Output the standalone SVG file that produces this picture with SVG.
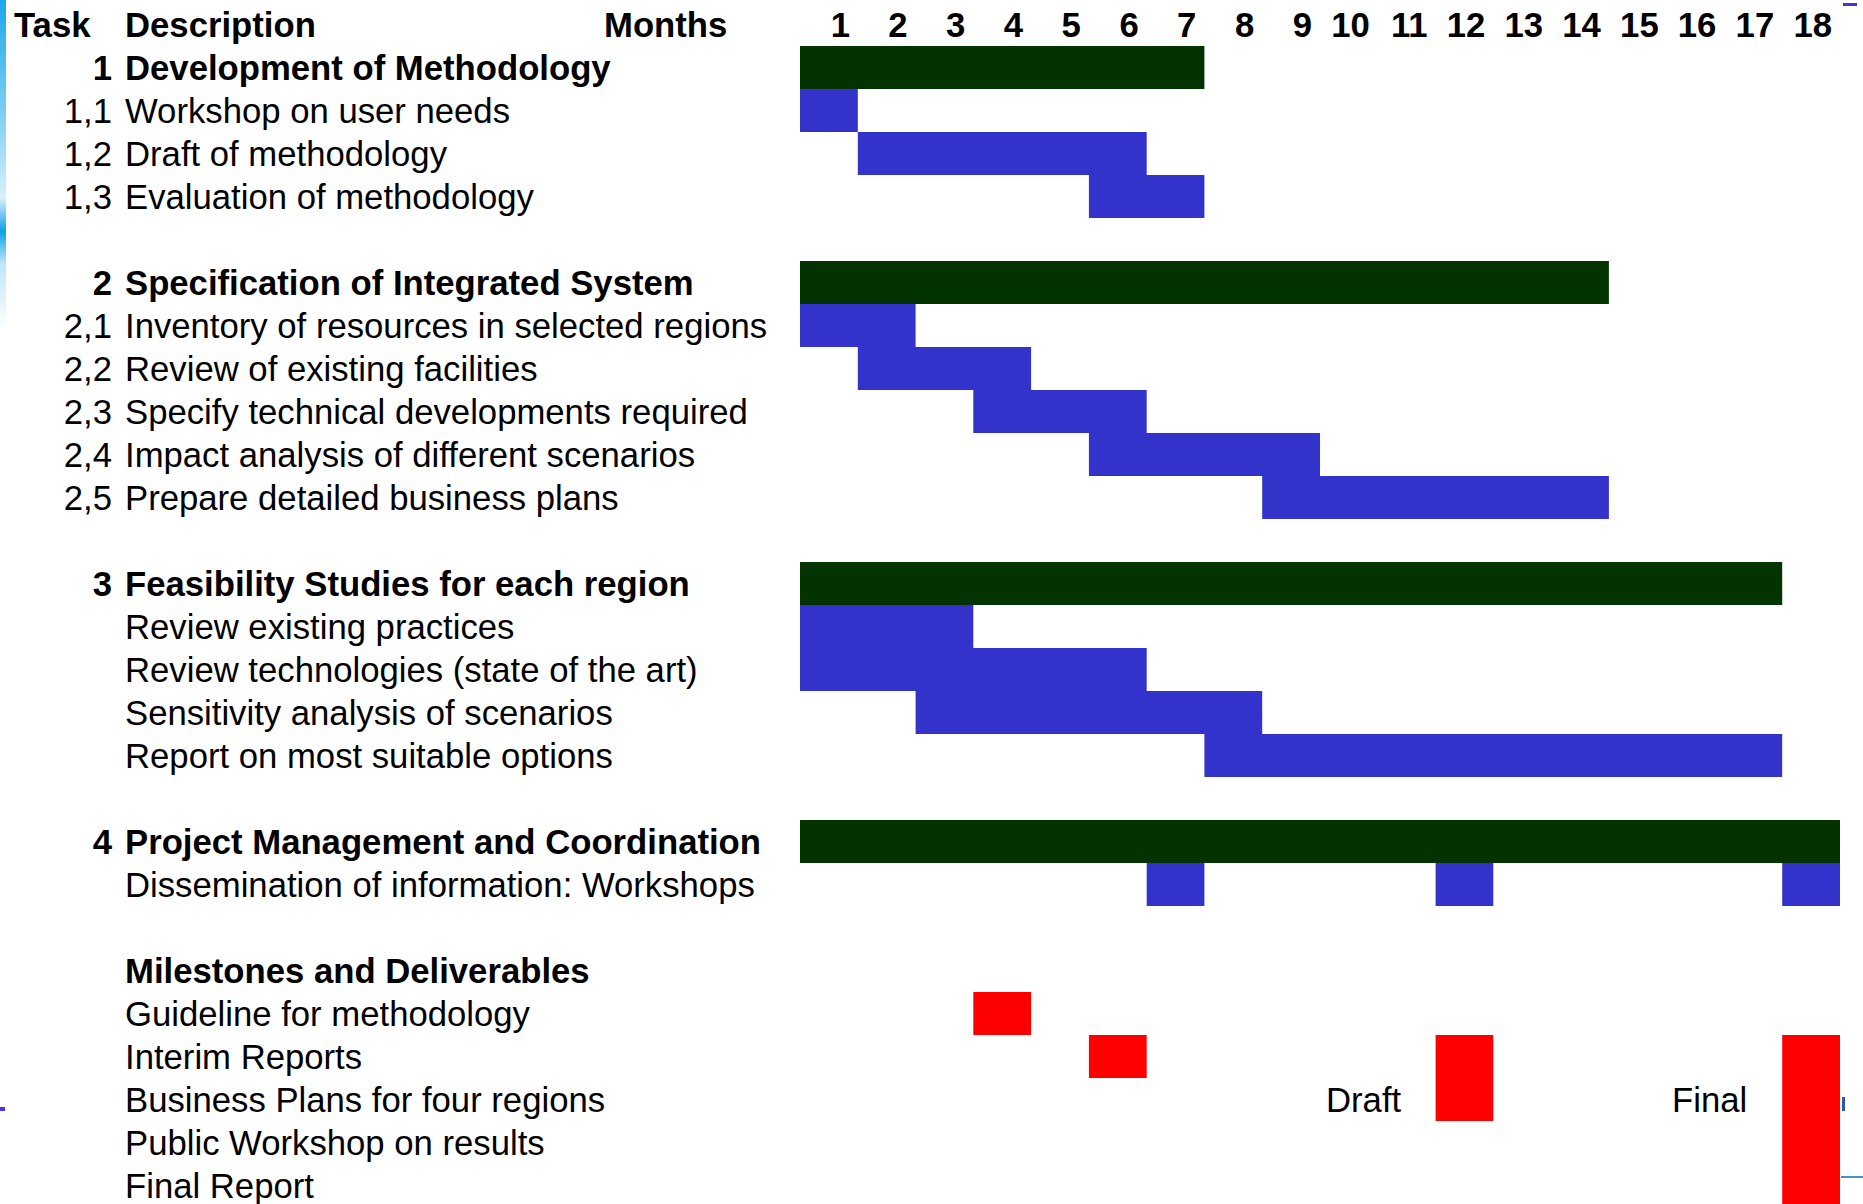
<svg xmlns="http://www.w3.org/2000/svg" width="1863" height="1204" viewBox="0 0 1863 1204">
<defs>
<style>
text{font-family:"Liberation Sans",Arial,sans-serif;font-size:34.7px;fill:#000}
.b{font-weight:bold}
.num{text-anchor:end}
.grp{fill:#033300}
.task{fill:#3333CC}
.ms{fill:#FF0000}
</style>
<linearGradient id="edge" x1="0" y1="0" x2="0" y2="1">
<stop offset="0" stop-color="#1ea6ea"/>
<stop offset="0.35" stop-color="#7fd0f4"/>
<stop offset="0.6" stop-color="#d8f0fb"/>
<stop offset="0.7" stop-color="#0fa0e6"/>
<stop offset="0.8" stop-color="#bfe6f8"/>
<stop offset="1" stop-color="#ffffff"/>
</linearGradient>
</defs>
<rect x="0" y="0" width="1863" height="1204" fill="#fff"/>
<!-- edge decorations -->
<path d="M0 0 H6 V330 H0 Z" fill="url(#edge)"/>
<rect x="1843" y="3" width="14" height="3" fill="#4b33d6"/>
<rect x="0" y="1107" width="5" height="4" fill="#4b33d6"/>
<rect x="1842" y="1097" width="3" height="14" fill="#2a5aa8"/>
<rect x="1841" y="1176" width="22" height="2" fill="#4a90d0"/>

<g id="header">
<text class="b" x="14" y="37">Task</text>
<text class="b" x="125" y="37">Description</text>
<text class="b" x="604" y="37">Months</text>
<text class="b num" x="850" y="37">1</text>
<text class="b num" x="907.6" y="37">2</text>
<text class="b num" x="965.3" y="37">3</text>
<text class="b num" x="1023.1" y="37">4</text>
<text class="b num" x="1080.9" y="37">5</text>
<text class="b num" x="1138.7" y="37">6</text>
<text class="b num" x="1196.4" y="37">7</text>
<text class="b num" x="1254.2" y="37">8</text>
<text class="b num" x="1312" y="37">9</text>
<text class="b num" x="1369.8" y="37">10</text>
<text class="b num" x="1427.6" y="37">11</text>
<text class="b num" x="1485.3" y="37">12</text>
<text class="b num" x="1543.1" y="37">13</text>
<text class="b num" x="1600.9" y="37">14</text>
<text class="b num" x="1658.7" y="37">15</text>
<text class="b num" x="1716.4" y="37">16</text>
<text class="b num" x="1774.2" y="37">17</text>
<text class="b num" x="1832" y="37">18</text>
</g>

<g id="connectors"></g>

<!-- Section 1 -->
<g id="task1">
<text class="b num" x="112" y="80">1</text>
<text class="b" x="125" y="80">Development of Methodology</text>
<rect class="grp" x="800" y="46" width="404.4" height="43"/>
</g>
<g id="task1-1">
<text class="num" x="112" y="123">1,1</text>
<text x="125" y="123">Workshop on user needs</text>
<rect class="task" x="800" y="89" width="57.8" height="43"/>
</g>
<g id="task1-2">
<text class="num" x="112" y="166">1,2</text>
<text x="125" y="166">Draft of methodology</text>
<rect class="task" x="857.8" y="132" width="288.9" height="43"/>
</g>
<g id="task1-3">
<text class="num" x="112" y="209">1,3</text>
<text x="125" y="209">Evaluation of methodology</text>
<rect class="task" x="1088.9" y="175" width="115.5" height="43"/>
</g>

<!-- Section 2 -->
<g id="task2">
<text class="b num" x="112" y="295">2</text>
<text class="b" x="125" y="295">Specification of Integrated System</text>
<rect class="grp" x="800" y="261" width="808.9" height="43"/>
</g>
<g id="task2-1">
<text class="num" x="112" y="338">2,1</text>
<text x="125" y="338">Inventory of resources in selected regions</text>
<rect class="task" x="800" y="304" width="115.6" height="43"/>
</g>
<g id="task2-2">
<text class="num" x="112" y="381">2,2</text>
<text x="125" y="381">Review of existing facilities</text>
<rect class="task" x="857.8" y="347" width="173.3" height="43"/>
</g>
<g id="task2-3">
<text class="num" x="112" y="424">2,3</text>
<text x="125" y="424">Specify technical developments required</text>
<rect class="task" x="973.3" y="390" width="173.4" height="43"/>
</g>
<g id="task2-4">
<text class="num" x="112" y="467">2,4</text>
<text x="125" y="467">Impact analysis of different scenarios</text>
<rect class="task" x="1088.9" y="433" width="231.1" height="43"/>
</g>
<g id="task2-5">
<text class="num" x="112" y="510">2,5</text>
<text x="125" y="510">Prepare detailed business plans</text>
<rect class="task" x="1262.2" y="476" width="346.7" height="43"/>
</g>

<!-- Section 3 -->
<g id="task3">
<text class="b num" x="112" y="596">3</text>
<text class="b" x="125" y="596">Feasibility Studies for each region</text>
<rect class="grp" x="800" y="562" width="982.2" height="43"/>
</g>
<g id="task3-1">
<text x="125" y="639">Review existing practices</text>
<rect class="task" x="800" y="605" width="173.3" height="43"/>
</g>
<g id="task3-2">
<text x="125" y="682">Review technologies (state of the art)</text>
<rect class="task" x="800" y="648" width="346.7" height="43"/>
</g>
<g id="task3-3">
<text x="125" y="725">Sensitivity analysis of scenarios</text>
<rect class="task" x="915.6" y="691" width="346.6" height="43"/>
</g>
<g id="task3-4">
<text x="125" y="768">Report on most suitable options</text>
<rect class="task" x="1204.4" y="734" width="577.8" height="43"/>
</g>

<!-- Section 4 -->
<g id="task4">
<text class="b num" x="112" y="854">4</text>
<text class="b" x="125" y="854">Project Management and Coordination</text>
<rect class="grp" x="800" y="820" width="1040" height="43"/>
</g>
<g id="task4-1">
<text x="125" y="897">Dissemination of information: Workshops</text>
<rect class="task" x="1146.7" y="863" width="57.7" height="43"/>
<rect class="task" x="1435.6" y="863" width="57.7" height="43"/>
<rect class="task" x="1782.2" y="863" width="57.8" height="43"/>
</g>

<!-- Milestones -->
<g id="milestones">
<text class="b" x="125" y="983">Milestones and Deliverables</text>
</g>
<g id="ms-guideline">
<text x="125" y="1026">Guideline for methodology</text>
<rect class="ms" x="973.3" y="992" width="57.8" height="43"/>
</g>
<g id="ms-interim">
<text x="125" y="1069">Interim Reports</text>
<rect class="ms" x="1088.9" y="1035" width="57.8" height="43"/>
</g>
<g id="ms-business">
<text x="125" y="1112">Business Plans for four regions</text>
<text x="1326" y="1112">Draft</text>
<rect class="ms" x="1435.6" y="1035" width="57.7" height="86"/>
<text x="1672" y="1112">Final</text>
</g>
<g id="ms-public">
<text x="125" y="1155">Public Workshop on results</text>
</g>
<g id="ms-final">
<text x="125" y="1198">Final Report</text>
<rect class="ms" x="1782.2" y="1035" width="57.8" height="169"/>
</g>
</svg>
